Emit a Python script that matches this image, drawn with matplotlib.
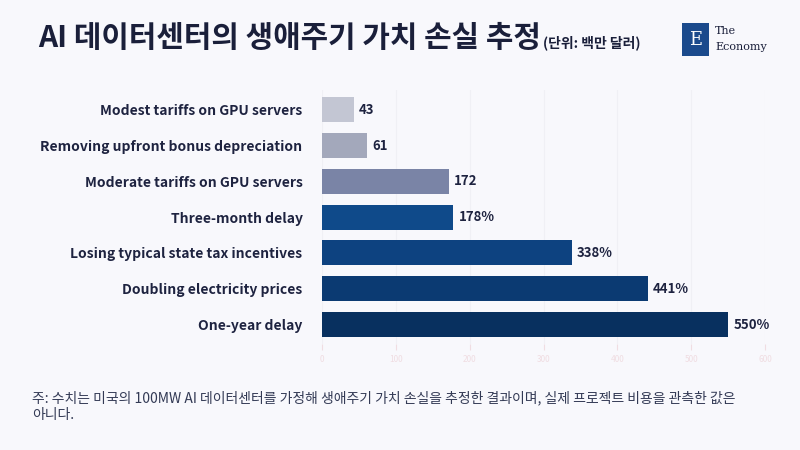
import matplotlib.pyplot as plt
from matplotlib.patches import Rectangle

plt.rcParams['font.family'] = ['Noto Sans CJK KR', 'DejaVu Sans']

labels = ['Modest tariffs on GPU servers', 'Removing upfront bonus depreciation',
          'Moderate tariffs on GPU servers', 'Three-month delay',
          'Losing typical state tax incentives', 'Doubling electricity prices', 'One-year delay']
values = [43, 61, 172, 178, 338, 441, 550]
value_texts = ['43', '61', '172', '178%', '338%', '441%', '550%']
colors = ['#c3c6d3', '#a3a8bb', '#7a84a6', '#0f4a8a', '#0d4280', '#0b3a72', '#08305f']
ticks = [0, 100, 200, 300, 400, 500, 600]

bg = '#f8f8fc'
fig = plt.figure(figsize=(8, 4.5), dpi=100, facecolor=bg)
ax = fig.add_axes([0.4025, 0.235, 0.5538, 0.565], facecolor=bg)

y = list(range(len(labels)))
ax.barh(y, values, height=0.7, color=colors)
for yi, v, t in zip(y, values, value_texts):
    ax.text(v + 7, yi, t, va='center', ha='left', fontsize=9.5, fontweight='bold', color='#1e2340')
ax.set_yticks(y)
ax.set_yticklabels(labels, fontsize=10, fontweight='bold', color='#1e2340')
ax.set_ylim(6.55, -0.55)
ax.set_xlim(0, 600)
ax.set_xticks(ticks)
ax.tick_params(axis='x', labelsize=6, colors='#f0dde2', length=4)
ax.tick_params(axis='y', length=0, pad=14)
for s in ax.spines.values():
    s.set_visible(False)
ax.grid(axis='x', color='#f0f0f5', linewidth=0.8)
ax.set_axisbelow(True)

title = fig.text(0.048, 0.915, 'AI 데이터센터의 생애주기 가치 손실 추정', fontsize=21.5, fontweight='bold',
                 color='#1a1f3a', va='center')
fig.canvas.draw()
bb = title.get_window_extent().transformed(fig.transFigure.inverted())
fig.text(bb.x1 + 0.002, 0.905, '(단위: 백만 달러)', fontsize=10, fontweight='bold', color='#1a1f3a', va='center')

fig.patches.append(Rectangle((0.853, 0.875), 0.033, 0.075, transform=fig.transFigure,
                             facecolor='#1b4a8c', edgecolor='none'))
fig.text(0.8695, 0.912, 'E', fontsize=13, color='white', family='DejaVu Serif', ha='center', va='center')
fig.text(0.894, 0.930, 'The', fontsize=8, color='#1a1f3a', family='DejaVu Serif', va='center')
fig.text(0.894, 0.895, 'Economy', fontsize=8, color='#1a1f3a', family='DejaVu Serif', va='center')

fig.text(0.04, 0.097, '주: 수치는 미국의 100MW AI 데이터센터를 가정해 생애주기 가치 손실을 추정한 결과이며, 실제 프로젝트 비용을 관측한 값은\n아니다.',
         fontsize=10, color='#333a55', va='center', linespacing=1.25)

fig.savefig('out.png', dpi=100, facecolor=bg)
